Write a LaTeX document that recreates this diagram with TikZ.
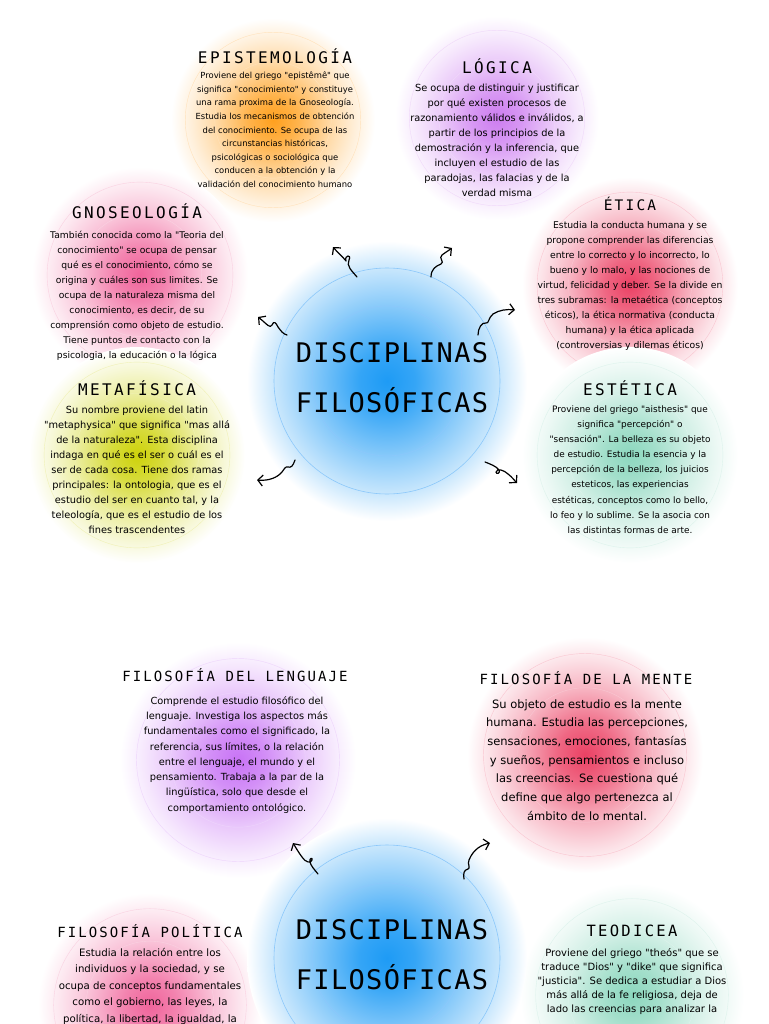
\documentclass[tikz,border=0pt]{standalone}
\usepackage{fontspec}
\setmainfont{DejaVu Sans}
\newfontfamily\titfont[LetterSpace=15]{DejaVu Sans Mono}
\newfontfamily\bigfont[LetterSpace=5]{DejaVu Sans Mono}
\newfontfamily\txtfont{DejaVu Sans}
\usetikzlibrary{arrows.meta}
\definecolor{cblue}{RGB}{30,155,245}
\definecolor{cringblue}{RGB}{140,200,250}
\definecolor{corange}{RGB}{255,160,30}
\definecolor{cpurple}{RGB}{205,125,240}
\definecolor{cpink}{RGB}{240,100,155}
\definecolor{cred}{RGB}{235,65,100}
\definecolor{cyellow}{RGB}{205,210,10}
\definecolor{cmint}{RGB}{140,215,190}
\definecolor{cpurpleb}{RGB}{200,115,245}
\newcommand\mkglow[1]{\pgfdeclareradialshading{glow#1}{\pgfpoint{0bp}{0bp}}{color(0bp)=(#1); color(6bp)=(#1!80!white); color(14bp)=(#1!40!white); color(20bp)=(#1!17!white); color(25bp)=(white); color(50bp)=(white)}}
\mkglow{corange}\mkglow{cpurple}\mkglow{cpink}\mkglow{cred}\mkglow{cyellow}\mkglow{cmint}\mkglow{cpurpleb}
\pgfdeclareradialshading{glowblue}{\pgfpoint{0bp}{0bp}}{color(0bp)=(cblue); color(5bp)=(cblue!90!white); color(13bp)=(cblue!55!white); color(20bp)=(cblue!25!white); color(25bp)=(white); color(50bp)=(white)}
\tikzset{
  ttl/.style={font=\titfont\fontsize{16}{18}\selectfont, inner sep=0pt, anchor=base},
  bttl/.style={font=\titfont\fontsize{14}{16}\selectfont, inner sep=0pt, anchor=base},
  bigttl/.style={font=\bigfont\fontsize{27}{30}\selectfont, inner sep=0pt, anchor=base},
  bodytxt/.style={align=center, inner sep=0pt, anchor=north},
  ring/.style={line width=0.4pt},
  squig/.style={line width=1.2pt, line cap=round, line join=round, -{Straight Barb[length=5pt,width=11pt,line width=1.2pt]}},
}
\newcommand\bubble[4]{% color, x, y, r
  \shade[shading=glow#1] (#2,#3) circle (#4pt);
  \draw[ring, #1!30!white] (#2,#3) circle ({0.57*#4pt});
  \draw[ring, #1!30!white] (#2,#3) circle ({0.86*#4pt});
}
\begin{document}
\begin{tikzpicture}[x=1pt,y=-1pt]
\useasboundingbox (0,0) rectangle (768,1024);
\fill[white] (0,0) rectangle (768,1024);
\begin{scope}
\clip (0,0) rectangle (768,1024);
% glows
\bubble{corange}{273}{120}{102}
\bubble{cpurple}{497}{118}{102}
\bubble{cpink}{140}{275}{108}
\bubble{cred}{630}{285}{108}
\bubble{cyellow}{137}{455}{108}
\bubble{cmint}{630}{455}{108}
\bubble{cpurpleb}{238}{760}{118}
\bubble{cred}{585}{755}{118}
\bubble{cpink}{150}{1005}{112}
\bubble{cmint}{632}{995}{112}
% central glows
\shade[shading=glowblue] (387,381) circle (140pt);
\draw[cringblue, line width=0.6pt] (387,381) circle (75pt);
\draw[cringblue, line width=0.6pt] (387,381) circle (113pt);
\shade[shading=glowblue] (387,958) circle (140pt);
\draw[cringblue, line width=0.6pt] (387,958) circle (75pt);
\draw[cringblue, line width=0.6pt] (387,958) circle (113pt);
\end{scope}

% central titles
\node[bigttl] (t1a) at (392,362.8) {DISCIPLINAS};
\node[bigttl] (t1b) at (392,412.8) {FILOSÓFICAS};
\node[bigttl] (t2a) at (392,939.8) {DISCIPLINAS};
\node[bigttl] (t2b) at (392,989.8) {FILOSÓFICAS};

% Epistemologia
\node[ttl] (epiT) at (275,63.8) {EPISTEMOLOGÍA};
\node[bodytxt, font={\txtfont\fontsize{8.4}{13.6}\selectfont}] (epiB) at (275,71.8) {Proviene del griego "epistêmê" que\\significa "conocimiento" y constituye\\una rama proxima de la Gnoseología.\\Estudia los mecanismos de obtención\\del conocimiento. Se ocupa de las\\circunstancias históricas,\\psicológicas o sociológica que\\conducen a la obtención y la\\validación del conocimiento humano};

% Logica
\node[ttl] (logT) at (497,73.8) {LÓGICA};
\node[bodytxt, font={\txtfont\fontsize{9.8}{15}\selectfont}] (logB) at (497,84.1) {Se ocupa de distinguir y justificar\\por qué existen procesos de\\razonamiento válidos e inválidos, a\\partir de los principios de la\\demostración y la inferencia, que\\incluyen el estudio de las\\paradojas, las falacias y de la\\verdad misma};

% Gnoseologia
\node[ttl] (gnoT) at (137,218.8) {GNOSEOLOGÍA};
\node[bodytxt, font={\txtfont\fontsize{9.2}{15}\selectfont}] (gnoB) at (137,231.4) {También conocida como la "Teoria del\\conocimiento" se ocupa de pensar\\qué es el conocimiento, cómo se\\origina y cuáles son sus limites. Se\\ocupa de la naturaleza misma del\\conocimiento, es decir, de su\\comprensión como objeto de estudio.\\Tiene puntos de contacto con la\\psicologia, la educación o la lógica};

% Etica
\node[ttl, font=\titfont\fontsize{14.5}{17}\selectfont] (etiT) at (630,210.3) {ÉTICA};
\node[bodytxt, font={\txtfont\fontsize{9.25}{15}\selectfont}] (etiB) at (630,221.4) {Estudia la conducta humana y se\\propone comprender las diferencias\\entre lo correcto y lo incorrecto, lo\\bueno y lo malo, y las nociones de\\virtud, felicidad y deber. Se la divide en\\tres subramas: la metaética (conceptos\\éticos), la ética normativa (conducta\\humana) y la ética aplicada\\(controversias y dilemas éticos)};

% Metafisica
\node[ttl] (metT) at (137,395.8) {METAFÍSICA};
\node[bodytxt, font={\txtfont\fontsize{9.8}{15}\selectfont}] (metB) at (137,406.1) {Su nombre proviene del latin\\"metaphysica" que significa "mas allá\\de la naturaleza". Esta disciplina\\indaga en qué es el ser o cuál es el\\ser de cada cosa. Tiene dos ramas\\principales: la ontologia, que es el\\estudio del ser en cuanto tal, y la\\teleología, que es el estudio de los\\fines trascendentes};

% Estetica
\node[ttl] (estT) at (630,395.8) {ESTÉTICA};
\node[bodytxt, font={\txtfont\fontsize{8.9}{15.1}\selectfont}] (estB) at (630,405.5) {Proviene del griego "aisthesis" que\\significa "percepción" o\\"sensación". La belleza es su objeto\\de estudio. Estudia la esencia y la\\percepción de la belleza, los juicios\\esteticos, las experiencias\\estéticas, conceptos como lo bello,\\lo feo y lo sublime. Se la asocia con\\las distintas formas de arte.};

% Filosofia del lenguaje
\node[bttl] (lenT) at (235,681.1) {FILOSOFÍA DEL LENGUAJE};
\node[bodytxt, font={\txtfont\fontsize{9.8}{15.3}\selectfont}] (lenB) at (237,696.1) {Comprende el estudio filosófico del\\lenguaje. Investiga los aspectos más\\fundamentales como el significado, la\\referencia, sus límites, o la relación\\entre el lenguaje, el mundo y el\\pensamiento. Trabaja a la par de la\\lingüística, solo que desde el\\comportamiento ontológico.};

% Filosofia de la mente
\node[bttl] (menT) at (586,684.1) {FILOSOFÍA DE LA MENTE};
\node[bodytxt, font={\txtfont\fontsize{11.5}{18.7}\selectfont}] (menB) at (587,699.2) {Su objeto de estudio es la mente\\humana. Estudia las percepciones,\\sensaciones, emociones, fantasías\\y sueños, pensamientos e incluso\\las creencias. Se cuestiona qué\\define que algo pertenezca al\\ámbito de lo mental.};

% Filosofia politica
\node[bttl] (polT) at (150,937.1) {FILOSOFÍA POLÍTICA};
\node[bodytxt, font={\txtfont\fontsize{10.2}{16.5}\selectfont}] (polB) at (150,947.9) {Estudia la relación entre los\\individuos y la sociedad, y se\\ocupa de conceptos fundamentales\\como el gobierno, las leyes, la\\política, la libertad, la igualdad, la};

% Teodicea
\node[ttl, font=\titfont\fontsize{15.5}{18}\selectfont] (teoT) at (632,936.7) {TEODICEA};
\node[bodytxt, font={\txtfont\fontsize{10}{14}\selectfont}] (teoB) at (632,948) {Proviene del griego "theós" que se\\traduce "Dios" y "dike" que significa\\"justicia". Se dedica a estudiar a Dios\\más allá de la fe religiosa, deja de\\lado las creencias para analizar la};

% arrow end points
\coordinate (a1) at (357,277); \coordinate (a2) at (333,247);
\coordinate (b1) at (431,277); \coordinate (b2) at (452,248);
\coordinate (c1) at (287,335); \coordinate (c2) at (258,317);
\coordinate (d1) at (478,335); \coordinate (d2) at (515,310);
\coordinate (e1) at (295,460); \coordinate (e2) at (257,480);
\coordinate (f1) at (485,462); \coordinate (f2) at (517,483);
\coordinate (g1) at (318,874); \coordinate (g2) at (293,843);
\coordinate (h1) at (464,879); \coordinate (h2) at (490,843);

\draw[squig] (a1) .. controls (352,271) and (346,266) .. (349,260) .. controls (352,254) and (344,255) .. (346,261) .. controls (343,257) and (338,253) .. (a2);
\draw[squig] (b1) .. controls (431,269) and (436,266) .. (441,264) .. controls (445,262) and (438,258) .. (442,255) .. controls (446,252) and (448,251) .. (b2);
\draw[squig] (c1) .. controls (283,334) and (281,331) .. (278,327) .. controls (276,323) and (274,320) .. (272,325) .. controls (270,329) and (267,324) .. (c2);
\draw[squig] (d1) .. controls (478,328) and (482,322) .. (486,323) .. controls (489,324) and (488,318) .. (493,314) .. controls (499,310) and (507,309) .. (d2);
\draw[squig] (e1) .. controls (293,466) and (291,468) .. (288,467) .. controls (285,466) and (284,470) .. (282,472) .. controls (277,478) and (268,481) .. (e2);
\draw[squig] (f1) .. controls (490,464) and (496,466) .. (499,470) .. controls (501,473) and (496,475) .. (496,472) .. controls (497,468) and (504,470) .. (508,474) .. controls (512,477) and (514,480) .. (f2);
\draw[squig] (g1) .. controls (314,869) and (311,866) .. (310,862) .. controls (309,858) and (313,857) .. (312,860) .. controls (311,864) and (305,862) .. (302,857) .. controls (299,853) and (296,848) .. (g2);
\draw[squig] (h1) .. controls (463,873) and (464,870) .. (468,869) .. controls (471,868) and (467,864) .. (469,860) .. controls (471,855) and (474,851) .. (478,848) .. controls (482,845) and (486,844) .. (h2);
\end{tikzpicture}
\end{document}
